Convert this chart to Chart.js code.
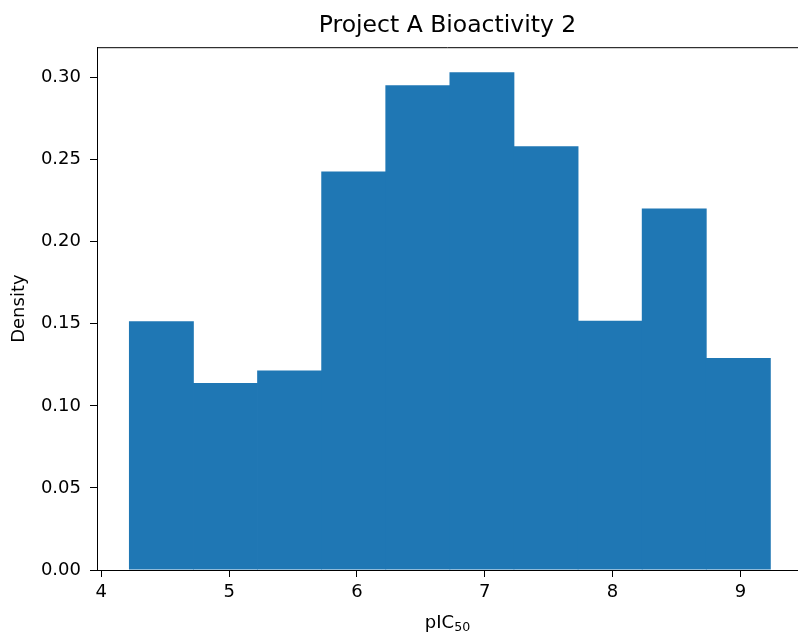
<!DOCTYPE html>
<html lang="en">
<head>
  <meta charset="UTF-8">
  <title>Project A Bioactivity 2</title>
  <script src="https://cdn.jsdelivr.net/npm/chart.js"></script>
  <style>
    html, body { margin: 0; padding: 0; background: #fff; overflow: hidden; }
    .chartBox { width: 798px; height: 633px; }
  </style>
</head>
<body>
  <div class="chartBox">
    <canvas id="myChart"></canvas>
  </div>
  <script>
    // histogram bin edges (pIC50) and density of each bin
    const binEdges = [4.219, 4.7206, 5.2222, 5.7238, 6.2254, 6.727, 7.2286, 7.7302, 8.2318, 8.7334, 9.235];
    const density = [0.1516, 0.1140, 0.1215, 0.2427, 0.2953, 0.3032, 0.2581, 0.1518, 0.2203, 0.1292];
    const xTickValues = [4, 5, 6, 7, 8, 9];
    const yTickValues = [0, 0.05, 0.10, 0.15, 0.20, 0.25, 0.30];

    const points = density.map((d, i) => ({ x: (binEdges[i] + binEdges[i + 1]) / 2, y: d }));

    Chart.defaults.font.family = "'DejaVu Sans', sans-serif";
    Chart.defaults.color = '#000';

    // matplotlib style top spine + x label with subscript (pIC50)
    const extras = {
      id: 'extras',
      afterDraw(chart) {
        const { ctx, chartArea: { top, left, right } } = chart;
        ctx.save();
        ctx.strokeStyle = '#000';
        ctx.lineWidth = 1;
        ctx.beginPath();
        ctx.moveTo(left, top + 0.5);
        ctx.lineTo(right, top + 0.5);
        ctx.stroke();

        // x axis label
        const main = 'pIC', sub = '50';
        const big = "18px 'DejaVu Sans'", small = "12.6px 'DejaVu Sans'";
        ctx.fillStyle = '#000';
        ctx.textBaseline = 'alphabetic';
        ctx.font = big;
        const w1 = ctx.measureText(main).width;
        ctx.font = small;
        const w2 = ctx.measureText(sub).width;
        const x0 = (left + right) / 2 - (w1 + w2) / 2;
        const baseY = 628;
        ctx.font = big;
        ctx.textAlign = 'left';
        ctx.fillText(main, x0, baseY);
        ctx.font = small;
        ctx.fillText(sub, x0 + w1, baseY + 2.5);
        ctx.restore();
      }
    };

    const config = {
      type: 'bar',
      data: {
        datasets: [{
          data: points,
          backgroundColor: '#1f77b4',
          borderWidth: 0,
          barPercentage: 1.012, // slight overlap hides seams between bins
          categoryPercentage: 1
        }]
      },
      options: {
        responsive: false,
        animation: false,
        layout: { padding: 0 },
        plugins: {
          legend: { display: false },
          tooltip: { enabled: false },
          title: {
            display: true,
            text: 'Project A Bioactivity 2',
            fullSize: false,
            color: '#000',
            font: { size: 23.5, weight: 'normal' },
            padding: { top: 12, bottom: 7 }
          }
        },
        scales: {
          x: {
            type: 'linear',
            offset: false,
            min: 3.966,
            max: 9.451,
            grid: { offset: false, drawOnChartArea: false, drawTicks: true, tickLength: 7, color: '#000' },
            border: { display: true, color: '#000', width: 1 },
            ticks: { font: { size: 18 }, padding: 5, autoSkip: false, maxRotation: 0, color: '#000' },
            afterBuildTicks(scale) { scale.ticks = xTickValues.map(v => ({ value: v })); },
            afterFit(scale) { scale.height = 63; }
          },
          y: {
            min: 0,
            max: 0.3185,
            grid: { drawOnChartArea: false, drawTicks: true, tickLength: 7, color: '#000' },
            border: { display: true, color: '#000', width: 1 },
            ticks: { font: { size: 18 }, padding: 9, color: '#000', callback: v => v.toFixed(2) },
            afterBuildTicks(scale) { scale.ticks = yTickValues.map(v => ({ value: v })); },
            title: { display: true, text: 'Density', font: { size: 18 }, padding: { top: 8.5, bottom: 0 }, color: '#000' },
            afterFit(scale) { scale.width = 97; }
          }
        }
      },
      plugins: [extras]
    };

    const canvas = document.getElementById('myChart');
    canvas.width = 798;
    canvas.height = 633;
    new Chart(canvas, config);
  </script>
</body>
</html>
